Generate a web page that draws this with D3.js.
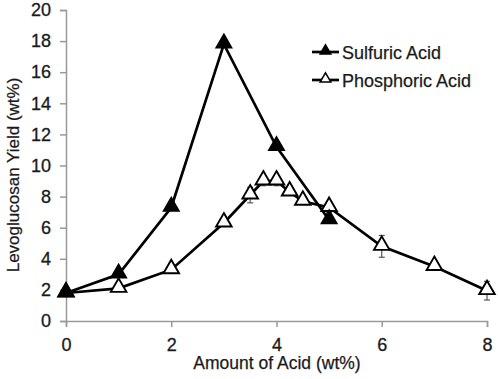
<!DOCTYPE html>
<html>
<head>
<meta charset="utf-8">
<script src="https://cdn.jsdelivr.net/npm/d3@7"></script>
<style>
  body { margin: 0; background: #fff; }
  text { font-family: "Liberation Sans", Arial, sans-serif; fill: #1a1a1a; }
</style>
</head>
<body>
<div id="chart"></div>
<script>
// Data
const sulfuricX = [0, 1, 2, 3, 4, 5]
const sulfuricY = [1.8, 3.0, 7.3, 17.8, 11.2, 6.5]

const phosphoricX = [0, 1, 2, 3, 3.5, 3.75, 4, 4.25, 4.5, 5, 6, 7, 8]
const phosphoricY = [1.8, 2.1, 3.3, 6.3, 8.1, 9.0, 9.0, 8.3, 7.7, 7.3, 4.8, 3.5, 1.95]
const phosphoricErr = [0, 0.2, 0.2, 0.2, 0.5, 0.3, 0.3, 0.2, 0.2, 0.3, 0.7, 0.2, 0.6]

const xTicks = [0, 2, 4, 6, 8]
const yTicks = [0, 2, 4, 6, 8, 10, 12, 14, 16, 18, 20]

const W = 498, H = 379
const margin = { top: 10, right: 11, bottom: 58, left: 66 }

const svg = d3.select("#chart").append("svg")
    .attr("width", W)
    .attr("height", H)

const x = d3.scaleLinear().domain([0, 8]).range([margin.left, W - margin.right])
const y = d3.scaleLinear().domain([0, 20]).range([H - margin.bottom, margin.top])

// Axes
const xAxis = svg.append("g")
    .attr("transform", "translate(0," + y(0) + ")")
    .call(d3.axisBottom(x).tickValues(xTicks).tickSize(6).tickPadding(11).tickFormat(d3.format("d")))
const yAxis = svg.append("g")
    .attr("transform", "translate(" + x(0) + ",0)")
    .call(d3.axisLeft(y).tickValues(yTicks).tickSize(6).tickPadding(9).tickFormat(d3.format("d")))

;[xAxis, yAxis].forEach(a => {
    a.select(".domain").attr("stroke", "#999").attr("stroke-width", 1.5)
    a.selectAll(".tick line").attr("stroke", "#999").attr("stroke-width", 1.5)
    a.selectAll(".tick text").style("font-size", "18px").attr("fill", "#1a1a1a")
        .attr("stroke", "#1a1a1a").attr("stroke-width", 0.3)
})

// Axis titles
svg.append("text")
    .attr("x", 277)
    .attr("y", 369)
    .attr("text-anchor", "middle")
    .style("font-size", "17.5px")
    .attr("stroke", "#1a1a1a").attr("stroke-width", 0.25)
    .text("Amount of Acid (wt%)")

svg.append("text")
    .attr("transform", "translate(19,175) rotate(-90)")
    .attr("text-anchor", "middle")
    .style("font-size", "17px")
    .attr("stroke", "#1a1a1a").attr("stroke-width", 0.25)
    .text("Levoglucosan Yield (wt%)")

// Series
const tri = d3.symbol().type(d3.symbolTriangle).size(105)
const line = d3.line().x(d => x(d[0])).y(d => y(d[1]))

const phos = phosphoricX.map((v, i) => [v, phosphoricY[i], phosphoricErr[i]])
const sulf = sulfuricX.map((v, i) => [v, sulfuricY[i]])

// error bars
const eb = svg.append("g").attr("stroke", "#555").attr("stroke-width", 1.2)
phos.filter(d => d[2] > 0).forEach(d => {
    eb.append("line").attr("x1", x(d[0])).attr("x2", x(d[0]))
        .attr("y1", y(d[1] - d[2])).attr("y2", y(d[1] + d[2]))
    ;[d[1] - d[2], d[1] + d[2]].forEach(v => {
        eb.append("line").attr("x1", x(d[0]) - 3).attr("x2", x(d[0]) + 3)
            .attr("y1", y(v)).attr("y2", y(v))
    })
})

svg.append("path").datum(phos)
    .attr("d", line).attr("fill", "none").attr("stroke", "#000").attr("stroke-width", 2.7)
svg.append("path").datum(sulf)
    .attr("d", line).attr("fill", "none").attr("stroke", "#000").attr("stroke-width", 2.7)

svg.append("g").selectAll("path").data(phos).enter().append("path")
    .attr("d", tri)
    .attr("transform", d => "translate(" + x(d[0]) + "," + (y(d[1]) - 1) + ")")
    .attr("fill", "#fff").attr("stroke", "#000").attr("stroke-width", 1.9)

svg.append("g").selectAll("path").data(sulf).enter().append("path")
    .attr("d", tri)
    .attr("transform", d => "translate(" + x(d[0]) + "," + (y(d[1]) - 1) + ")")
    .attr("fill", "#000").attr("stroke", "#000").attr("stroke-width", 1.5)

// Legend
const legend = [
    { name: "Sulfuric Acid", fill: "#000", yPos: 52 },
    { name: "Phosphoric Acid", fill: "#fff", yPos: 80 }
]
const lg = svg.append("g").selectAll("g").data(legend).enter().append("g")
    .attr("transform", d => "translate(312," + d.yPos + ")")
lg.append("line").attr("x1", 0).attr("x2", 27).attr("y1", 0).attr("y2", 0)
    .attr("stroke", "#000").attr("stroke-width", 2.7)
lg.append("path").attr("d", d3.symbol().type(d3.symbolTriangle).size(50))
    .attr("transform", "translate(13.5,-1)")
    .attr("fill", d => d.fill).attr("stroke", "#000").attr("stroke-width", 1.5)
lg.append("text").attr("x", 30).attr("y", 7)
    .style("font-size", "18px")
    .attr("stroke", "#1a1a1a").attr("stroke-width", 0.25)
    .text(d => d.name)
</script>
</body>
</html>
